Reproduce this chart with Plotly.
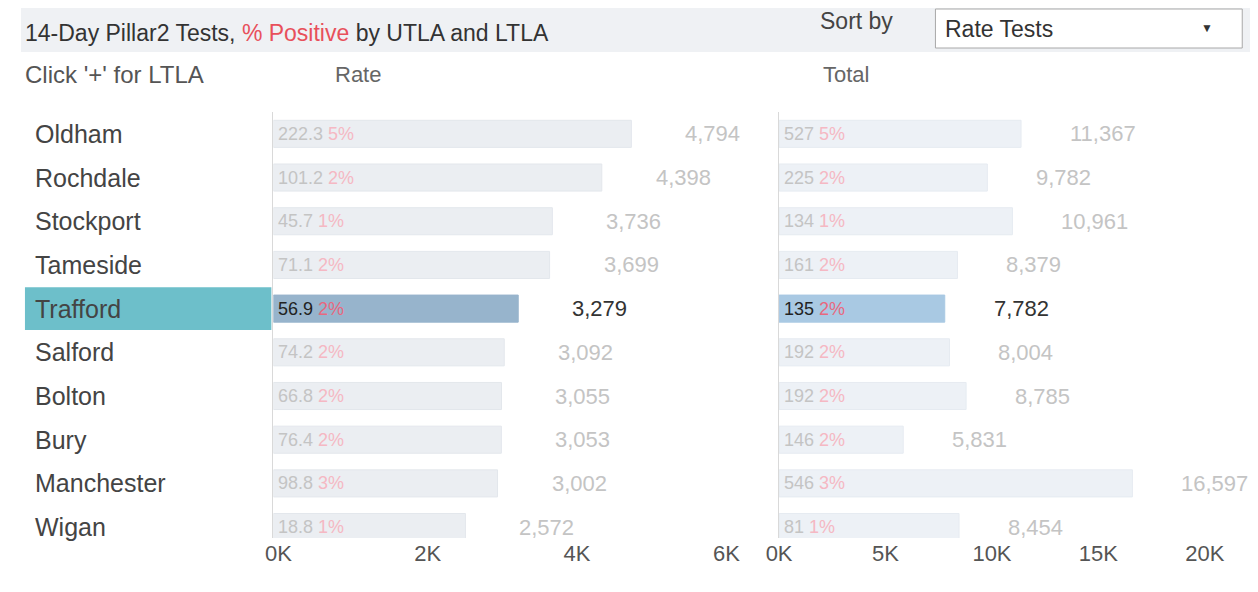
import plotly.graph_objects as go

# ---- data ----
areas = ["Oldham", "Rochdale", "Stockport", "Tameside", "Trafford",
         "Salford", "Bolton", "Bury", "Manchester", "Wigan"]
rate_tests = [4794, 4398, 3736, 3699, 3279, 3092, 3055, 3053, 3002, 2572]
total_tests = [11367, 9782, 10961, 8379, 7782, 8004, 8785, 5831, 16597, 8454]
rate_pos = [222.3, 101.2, 45.7, 71.1, 56.9, 74.2, 66.8, 76.4, 98.8, 18.8]
total_pos = [527, 225, 134, 161, 135, 192, 192, 146, 546, 81]
pct_pos = ["5%", "2%", "1%", "2%", "2%", "2%", "2%", "2%", "3%", "1%"]
selected = "Trafford"
rate_ticks = [0, 2000, 4000, 6000]
rate_ticktext = ["0K", "2K", "4K", "6K"]
total_ticks = [0, 5000, 10000, 15000, 20000]
total_ticktext = ["0K", "5K", "10K", "15K", "20K"]

W, H = 1258, 592
OFF = 8  # page body margin
FONT = "Liberation Sans, Arial, sans-serif"

def px(x):
    return (x - OFF) / W

def py(y):
    return 1 - (y - OFF) / H

left_col = ["#97B4CC" if a == selected else "#EBEEF2" for a in areas]
right_col = ["#A9C9E3" if a == selected else "#EDF1F6" for a in areas]
left_line = ["#97B4CC" if a == selected else "#E3E7EC" for a in areas]
right_line = ["#A9C9E3" if a == selected else "#E6EBF1" for a in areas]

fig = go.Figure()
fig.add_trace(go.Bar(x=rate_tests, y=areas, orientation="h", xaxis="x", yaxis="y",
                     width=0.62, marker=dict(color=left_col, line=dict(color=left_line, width=1)),
                     hoverinfo="skip", showlegend=False))
fig.add_trace(go.Bar(x=total_tests, y=areas, orientation="h", xaxis="x2", yaxis="y2",
                     width=0.62, marker=dict(color=right_col, line=dict(color=right_line, width=1)),
                     hoverinfo="skip", showlegend=False))

ann = []
shapes = []

# header band
shapes.append(dict(type="rect", xref="paper", yref="paper", x0=px(8), x1=px(1258), y0=py(52), y1=py(8),
                   fillcolor="#EFF1F4", line=dict(width=0), layer="below"))
# dropdown box
shapes.append(dict(type="rect", xref="paper", yref="paper", x0=px(932), x1=px(1242), y0=py(48), y1=py(9),
                   fillcolor="#FFFFFF", line=dict(color="#A8A8A8", width=1)))
# selected row highlight
sel_i = areas.index(selected)
shapes.append(dict(type="rect", xref="paper", yref="y", x0=px(12), x1=px(261),
                   y0=sel_i - 0.49, y1=sel_i + 0.49, fillcolor="#6DBFCA", line=dict(width=0), layer="below"))

ann.append(dict(xref="paper", yref="paper", x=px(10), y=py(33), xanchor="left", yanchor="middle",
                text="14-Day Pillar2 Tests, <span style='color:#E8505B'>% Positive</span> by UTLA and LTLA",
                showarrow=False, font=dict(size=23, color="#333333", family=FONT)))
ann.append(dict(xref="paper", yref="paper", x=px(813), y=py(21), xanchor="left", yanchor="middle",
                text="Sort by", showarrow=False, font=dict(size=23, color="#444444", family=FONT)))
ann.append(dict(xref="paper", yref="paper", x=px(940), y=py(29), xanchor="left", yanchor="middle",
                text="Rate Tests", showarrow=False, font=dict(size=23, color="#333333", family=FONT)))
ann.append(dict(xref="paper", yref="paper", x=px(1206), y=py(28), xanchor="center", yanchor="middle",
                text="▼", showarrow=False, font=dict(size=12, color="#333333", family=FONT)))
ann.append(dict(xref="paper", yref="paper", x=px(10), y=py(75), xanchor="left", yanchor="middle",
                text="Click '+' for LTLA", showarrow=False, font=dict(size=24, color="#555555", family=FONT)))
ann.append(dict(xref="paper", yref="paper", x=px(323), y=py(75), xanchor="left", yanchor="middle",
                text="Rate", showarrow=False, font=dict(size=22, color="#666666", family=FONT)))
ann.append(dict(xref="paper", yref="paper", x=px(816), y=py(75), xanchor="left", yanchor="middle",
                text="Total", showarrow=False, font=dict(size=22, color="#666666", family=FONT)))

for i, a in enumerate(areas):
    sel = a == selected
    num_c = "#222222" if sel else "#C4C4C4"
    pct_c = "#E8687F" if sel else "#F5B8C3"
    val_c = "#333333" if sel else "#C4C4C4"
    ann.append(dict(xref="paper", yref="y", x=px(20), y=a, xanchor="left", yanchor="middle",
                    text=a, showarrow=False, font=dict(size=25, color="#444444", family=FONT)))
    ann.append(dict(xref="x", yref="y", x=0, y=a, xanchor="left", yanchor="middle", xshift=3,
                    text=f"<span style='color:{num_c}'>{rate_pos[i]:.1f}</span> <span style='color:{pct_c}'>{pct_pos[i]}</span>",
                    showarrow=False, font=dict(size=18, family=FONT)))
    ann.append(dict(xref="x2", yref="y2", x=0, y=a, xanchor="left", yanchor="middle", xshift=3,
                    text=f"<span style='color:{num_c}'>{total_pos[i]}</span> <span style='color:{pct_c}'>{pct_pos[i]}</span>",
                    showarrow=False, font=dict(size=18, family=FONT)))
    ann.append(dict(xref="x", yref="y", x=rate_tests[i], y=a, xanchor="left", yanchor="middle", xshift=52,
                    text=f"{rate_tests[i]:,}", showarrow=False, font=dict(size=22, color=val_c, family=FONT)))
    ann.append(dict(xref="x2", yref="y2", x=total_tests[i], y=a, xanchor="left", yanchor="middle", xshift=47,
                    text=f"{total_tests[i]:,}", showarrow=False, font=dict(size=22, color=val_c, family=FONT)))

ydom = [py(538), py(112)]
yax = dict(type="category", categoryorder="array", categoryarray=areas, range=[9.25, -0.5],
           domain=ydom, showticklabels=False, showgrid=False, zeroline=False,
           showline=True, linecolor="#D9D9D9", linewidth=1, ticks="", fixedrange=True)

fig.update_layout(
    width=W, height=H, margin=dict(l=0, r=0, t=0, b=0),
    paper_bgcolor="white", plot_bgcolor="white", bargap=0.38,
    font=dict(family=FONT),
    xaxis=dict(domain=[px(263), px(761)], range=[0, 6600], tickvals=rate_ticks, ticktext=rate_ticktext,
               showgrid=False, zeroline=False, showline=False, ticks="", ticklabelshift=5,
               tickfont=dict(size=22, color="#555555", family=FONT), anchor="y", fixedrange=True),
    xaxis2=dict(domain=[px(774), px(1258)], range=[0, 22500], tickvals=total_ticks, ticktext=total_ticktext,
                showgrid=False, zeroline=False, showline=False, ticks="",
                tickfont=dict(size=22, color="#555555", family=FONT), anchor="y2", fixedrange=True),
    yaxis=dict(yax, anchor="x"),
    yaxis2=dict(yax, anchor="x2"),
    annotations=ann, shapes=shapes,
)

fig.write_html("out.html")
